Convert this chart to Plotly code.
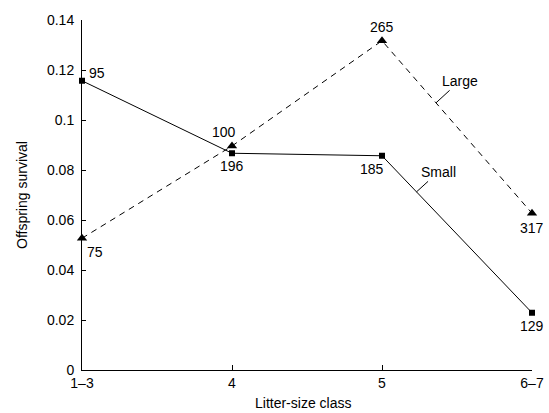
import plotly.graph_objects as go

categories = ["1\u20133", "4", "5", "6\u20137"]
small_vals = [0.1157, 0.0867, 0.0857, 0.0229]
large_vals = [0.0527, 0.0896, 0.1317, 0.0627]
small_n = ["95", "196", "185", "129"]
large_n = ["75", "100", "265", "317"]
y_ticks = [0, 0.02, 0.04, 0.06, 0.08, 0.1, 0.12, 0.14]
y_ticktext = ["0", "0.02", "0.04", "0.06", "0.08", "0.1", "0.12", "0.14"]

xs = list(range(len(categories)))
FONT = "Liberation Sans, Arial, Helvetica, sans-serif"
FS = 14

fig = go.Figure()
fig.add_trace(go.Scatter(
    x=xs, y=large_vals, mode="lines+markers",
    line=dict(color="black", width=1, dash="6px,5px"),
    marker=dict(symbol="triangle-up", size=9, color="black"),
    cliponaxis=False, showlegend=False, hoverinfo="skip"))
fig.add_trace(go.Scatter(
    x=xs, y=small_vals, mode="lines+markers",
    line=dict(color="black", width=1),
    marker=dict(symbol="square", size=6, color="black"),
    cliponaxis=False, showlegend=False, hoverinfo="skip"))

small_off = [(15, -8), (0, 13), (-10, 13), (0, 13)]
large_off = [(13, 14), (-8, -14), (0, -14), (0, 15)]
annotations = []
for i in xs:
    annotations.append(dict(x=i, y=small_vals[i], text=small_n[i], showarrow=False,
                            xshift=small_off[i][0], yshift=-small_off[i][1],
                            font=dict(size=FS, color="black", family=FONT)))
    annotations.append(dict(x=i, y=large_vals[i], text=large_n[i], showarrow=False,
                            xshift=large_off[i][0], yshift=-large_off[i][1],
                            font=dict(size=FS, color="black", family=FONT)))

# leader-line labels
tL = 0.36
annotations.append(dict(x=2 + tL, y=large_vals[2] + tL * (large_vals[3] - large_vals[2]),
                        text="Large", showarrow=True, arrowhead=0, arrowwidth=1,
                        arrowcolor="black", ax=24, ay=-22, standoff=0,
                        font=dict(size=FS, color="black", family=FONT)))
tS = 0.23
annotations.append(dict(x=2 + tS, y=small_vals[2] + tS * (small_vals[3] - small_vals[2]),
                        text="Small", showarrow=True, arrowhead=0, arrowwidth=1,
                        arrowcolor="black", ax=22, ay=-20, standoff=0,
                        font=dict(size=FS, color="black", family=FONT)))

# axis titles
annotations.append(dict(xref="paper", yref="paper", x=0.5, y=0, xshift=-4, yshift=-33,
                        xanchor="center", yanchor="middle",
                        text="Litter-size class", showarrow=False,
                        font=dict(size=FS, color="black", family=FONT)))
annotations.append(dict(xref="paper", yref="paper", x=0, y=0.5, xshift=-60,
                        xanchor="center", yanchor="middle",
                        text="Offspring survival", showarrow=False, textangle=-90,
                        font=dict(size=FS, color="black", family=FONT)))

fig.update_layout(
    width=549, height=413,
    margin=dict(l=82, r=17, t=20, b=43),
    paper_bgcolor="white", plot_bgcolor="white",
    font=dict(family=FONT, size=FS, color="black"),
    annotations=annotations,
    hovermode=False,
    xaxis=dict(range=[0, 3], tickvals=xs, ticktext=categories, showgrid=False,
               zeroline=False, showline=True, linecolor="black", linewidth=1,
               ticks="inside", ticklen=5, tickcolor="black", automargin=False,
               tickfont=dict(size=FS, family=FONT)),
    yaxis=dict(range=[0, 0.14], tickvals=y_ticks, ticktext=y_ticktext, showgrid=False,
               zeroline=False, showline=True, linecolor="black", linewidth=1,
               ticks="inside", ticklen=4, tickcolor="black", automargin=False,
               ticklabelstandoff=4, tickfont=dict(size=FS, family=FONT)),
)

fig.write_html("out.html", config={"displayModeBar": False, "staticPlot": True})

# remove the browser's default body margin so the figure fills the window exactly
with open("out.html", encoding="utf-8") as f:
    html = f.read()
html = html.replace("<body>", '<body style="margin:0;overflow:hidden">', 1)
with open("out.html", "w", encoding="utf-8") as f:
    f.write(html)
